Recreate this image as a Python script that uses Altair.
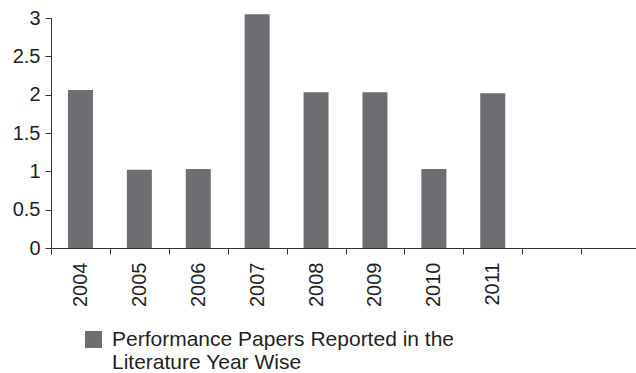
import altair as alt
import pandas as pd

years = ["2004", "2005", "2006", "2007", "2008", "2009", "2010", "2011"]
x_domain = years + ["", " "]
values = [2.06, 1.02, 1.03, 3.05, 2.03, 2.03, 1.03, 2.02]
series_name = "Performance Papers Reported in the\nLiterature Year Wise"
y_ticks = [0, 0.5, 1, 1.5, 2, 2.5, 3]

df = pd.DataFrame({"year": years, "value": values, "series": [series_name] * len(years)})

FONT = "Liberation Sans"
TXT = "#231f20"

chart = alt.Chart(df).mark_bar(size=25).encode(
    x=alt.X("year:N", scale=alt.Scale(domain=x_domain, range=[0, 589], paddingInner=0, paddingOuter=0),
            axis=alt.Axis(title=None, labelAngle=-90, tickBand="extent", tickSize=6, labelPadding=8,
                          labelFontSize=20, labelFont=FONT, labelColor=TXT, domainColor="#333333",
                          tickColor="#333333", grid=False)),
    y=alt.Y("value:Q", scale=alt.Scale(domain=[0, 3], nice=False),
            axis=alt.Axis(title=None, values=y_ticks, format="~g", tickSize=6, labelPadding=5,
                          labelFontSize=20, labelFont=FONT, labelColor=TXT, domainColor="#333333",
                          tickColor="#333333", grid=False, labelFlush=False)),
    color=alt.Color("series:N", scale=alt.Scale(range=["#6d6e71"]),
                    legend=alt.Legend(title=None, orient="none", legendX=32, legendY=311,
                                      symbolType="square", symbolSize=289, symbolStrokeWidth=0,
                                      labelFontSize=21, labelFont=FONT,
                                      labelColor=TXT, labelExpr="split(datum.label, '\\n')",
                                      labelLimit=500, labelOffset=8)),
).properties(
    width=585, height=230,
    autosize=alt.AutoSizeParams(type="none"),
    padding={"left": 51, "top": 18, "right": 0, "bottom": 125},
).configure_view(stroke=None)

chart.save("out.html", embed_options={"renderer": "svg", "actions": False})
